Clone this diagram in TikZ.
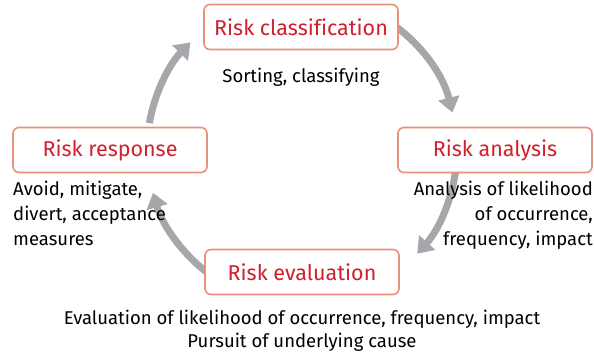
\documentclass[tikz,border=0pt]{standalone}
\usepackage{fontspec}
\setmainfont{Fira Sans}[Ligatures=NoCommon]
\usetikzlibrary{arrows.meta,positioning}
\definecolor{stageline}{HTML}{E8907A}
\definecolor{stagetext}{HTML}{D01F2E}
\definecolor{cyclegray}{HTML}{A5A7AA}

\begin{document}
\begin{tikzpicture}[
    x=1pt, y=1pt,
stage/.style={draw=stageline, line width=1.6pt, fill=white, rounded corners=6pt,
  minimum width=194pt, minimum height=45pt, text=stagetext, font=\fontsize{21.5}{24}\selectfont},
note/.style={font=\fontsize{18.5}{25}\selectfont, inner sep=0pt},
cycle arrow/.style={draw=cyclegray, line width=7pt, -{Triangle[width=21pt,length=15pt]}},
]
\useasboundingbox (0,0) rectangle (594,363);
\coordinate (c) at (302,213);
% the four gray arcs of the cycle
\foreach \a/\b in {62/14, -6/-42, 232/196, 170/136} {
\draw[cycle arrow] ([shift={(\a:155)}]c) arc[start angle=\a, end angle=\b, radius=155];
}
\node[stage] (classification) at (301,336) {Risk classification};
\node[stage] (analysis) at (495,213) {Risk analysis};
\node[stage] (evaluation) at (302,91) {Risk evaluation};
\node[stage] (response) at (110,213) {Risk response};
\node[note, below=18pt of classification] (sorting) {Sorting, classifying};
\node[note, align=right, anchor=north east] (analysisnote) at (593,182)
  {Analysis of likelihood\\of occurrence,\\frequency, impact};
\node[note, align=left, anchor=north west] (responsenote) at (13,182)
  {Avoid, mitigate,\\divert, acceptance\\measures};
\node[note, align=center, anchor=north, font=\fontsize{18.5}{23}\selectfont] (evaluationnote) at (302,53)
  {Evaluation of likelihood of occurrence, frequency, impact\\Pursuit of underlying cause};
\end{tikzpicture}
\end{document}
